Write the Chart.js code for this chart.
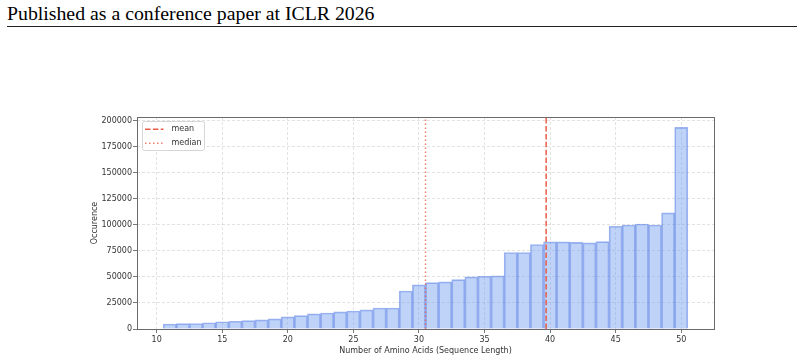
<!DOCTYPE html>
<html>
<head>
<meta charset="utf-8">
<script src="https://cdn.jsdelivr.net/npm/chart.js@4"></script>
<style>
  html, body { margin: 0; padding: 0; background: #fff; }
  #page { position: relative; width: 804px; height: 360px; overflow: hidden; }
  #hdr {
    position: absolute; left: 7px; top: 2px;
    font-family: "Liberation Serif", "Times New Roman", serif;
    font-size: 19.8px; color: #000; white-space: nowrap;
  }
  #rule { position: absolute; left: 7px; right: 7px; top: 26px; height: 0; border-top: 1.3px solid #222; }
  #c { position: absolute; left: 0; top: 0; }
</style>
</head>
<body>
<div id="page">
  <div id="hdr">Published as a conference paper at ICLR 2026</div>
  <div id="rule"></div>
  <canvas id="c" width="804" height="360"></canvas>
</div>
<script>
// 서열 길이별 빈도
const lengths = [11, 12, 13, 14, 15, 16, 17, 18, 19, 20,
                 21, 22, 23, 24, 25, 26, 27, 28, 29, 30,
                 31, 32, 33, 34, 35, 36, 37, 38, 39, 40,
                 41, 42, 43, 44, 45, 46, 47, 48, 49, 50];
const counts = [4800, 5200, 5300, 6000, 7000, 7400, 8000, 8800, 9700, 11600,
                12800, 14500, 15400, 16400, 17300, 18300, 20200, 20200, 36500, 42300,
                44500, 45200, 47400, 50000, 50600, 51000, 73400, 73400, 81100, 83700,
                83600, 83200, 82600, 83800, 98600, 99800, 100800, 99800, 111400, 193600];
const meanLength = 39.7;
const medianLength = 30.5;

const xTicks = [10, 15, 20, 25, 30, 35, 40, 45, 50];
const yTicks = [0, 25000, 50000, 75000, 100000, 125000, 150000, 175000, 200000];
const xRange = [8.5, 52.5];
const yMax = 203500;

const FONT = { family: '"DejaVu Sans", sans-serif', size: 8 };
const TXT = '#333';

// 축 테두리(사방) 그리기
const framePlugin = {
    id: 'frame',
    afterDatasetsDraw(chart) {
        const { ctx, chartArea: a } = chart;
        ctx.save();
        ctx.strokeStyle = '#6a6a6a';
        ctx.lineWidth = 1;
        ctx.strokeRect(Math.round(a.left) + 0.5, Math.round(a.top) + 0.5,
                       Math.round(a.right - a.left), Math.round(a.bottom - a.top));
        ctx.restore();
    }
};

// 차트 안쪽 좌상단 범례 (선 데이터셋만)
const innerLegend = {
    id: 'innerLegend',
    afterDraw(chart) {
        const { ctx, chartArea: a } = chart;
        const items = chart.data.datasets.filter(d => d.type === 'line');
        const x0 = Math.round(a.left) + 5.5, y0 = Math.round(a.top) + 4.5;
        ctx.save();
        ctx.font = `${FONT.size}px ${FONT.family}`;
        const w = 62, h = 29, r = 2;
        ctx.beginPath();
        ctx.roundRect(x0, y0, w, h, r);
        ctx.fillStyle = 'rgba(255,255,255,0.85)';
        ctx.fill();
        ctx.strokeStyle = '#d6d6d6';
        ctx.lineWidth = 1;
        ctx.stroke();
        items.forEach((d, i) => {
            const y = y0 + 7.8 + i * 14;
            ctx.beginPath();
            ctx.setLineDash(d.borderDash || []);
            ctx.strokeStyle = d.borderColor;
            ctx.lineWidth = d.borderWidth;
            ctx.moveTo(x0 + 2.5, y);
            ctx.lineTo(x0 + 21, y);
            ctx.stroke();
            ctx.setLineDash([]);
            ctx.fillStyle = TXT;
            ctx.textBaseline = 'middle';
            ctx.fillText(d.label, x0 + 29, y);
        });
        ctx.restore();
    }
};

new Chart(document.getElementById('c'), {
    type: 'bar',
    data: {
        datasets: [
            {
                label: 'counts',
                data: lengths.map((x, i) => ({ x, y: counts[i] })),
                backgroundColor: 'rgba(100,149,237,0.42)',
                borderColor: 'rgba(65,105,225,0.5)',
                borderWidth: 1,
                borderSkipped: 'bottom',
                barPercentage: 1,
                categoryPercentage: 1,
                order: 2
            },
            {
                type: 'line',
                label: 'mean',
                data: [{ x: meanLength, y: 0 }, { x: meanLength, y: yMax }],
                borderColor: 'rgba(232,80,56,0.92)',
                borderWidth: 1.5,
                borderDash: [5.5, 2.4],
                pointRadius: 0,
                order: 1
            },
            {
                type: 'line',
                label: 'median',
                data: [{ x: medianLength, y: 0 }, { x: medianLength, y: yMax }],
                borderColor: 'rgba(232,80,56,0.72)',
                borderWidth: 1.5,
                borderDash: [1.5, 2.5],
                pointRadius: 0,
                order: 0
            }
        ]
    },
    options: {
        responsive: false,
        animation: false,
        devicePixelRatio: 1,
        layout: { padding: { left: 86, right: 90, top: 117, bottom: 2 } },
        plugins: { legend: { display: false }, tooltip: { enabled: false } },
        scales: {
            x: {
                type: 'linear',
                min: xRange[0],
                max: xRange[1],
                offset: false,
                afterBuildTicks: s => { s.ticks = xTicks.map(v => ({ value: v })); },
                afterFit: s => { s.height = 29; },
                ticks: { font: FONT, color: TXT, padding: 2, maxRotation: 0, callback: v => String(v) },
                grid: { offset: false, color: 'rgba(0,0,0,0.14)', tickColor: '#555', tickLength: 4, lineWidth: 0.8 },
                border: { display: false, dash: [3, 2] },
                title: { display: true, text: 'Number of Amino Acids (Sequence Length)', font: FONT, color: TXT, padding: { top: 2, bottom: 2 } }
            },
            y: {
                min: 0,
                max: yMax,
                afterBuildTicks: s => { s.ticks = yTicks.map(v => ({ value: v })); },
                afterFit: s => { s.width = 51; },
                ticks: { font: FONT, color: TXT, padding: 1, callback: v => String(v) },
                grid: { color: 'rgba(0,0,0,0.14)', tickColor: '#555', tickLength: 4, lineWidth: 0.8 },
                border: { display: false, dash: [3, 2] },
                title: { display: true, text: 'Occurence', font: FONT, color: TXT, padding: { top: 4, bottom: 4 } }
            }
        }
    },
    plugins: [framePlugin, innerLegend]
});
</script>
</body>
</html>
